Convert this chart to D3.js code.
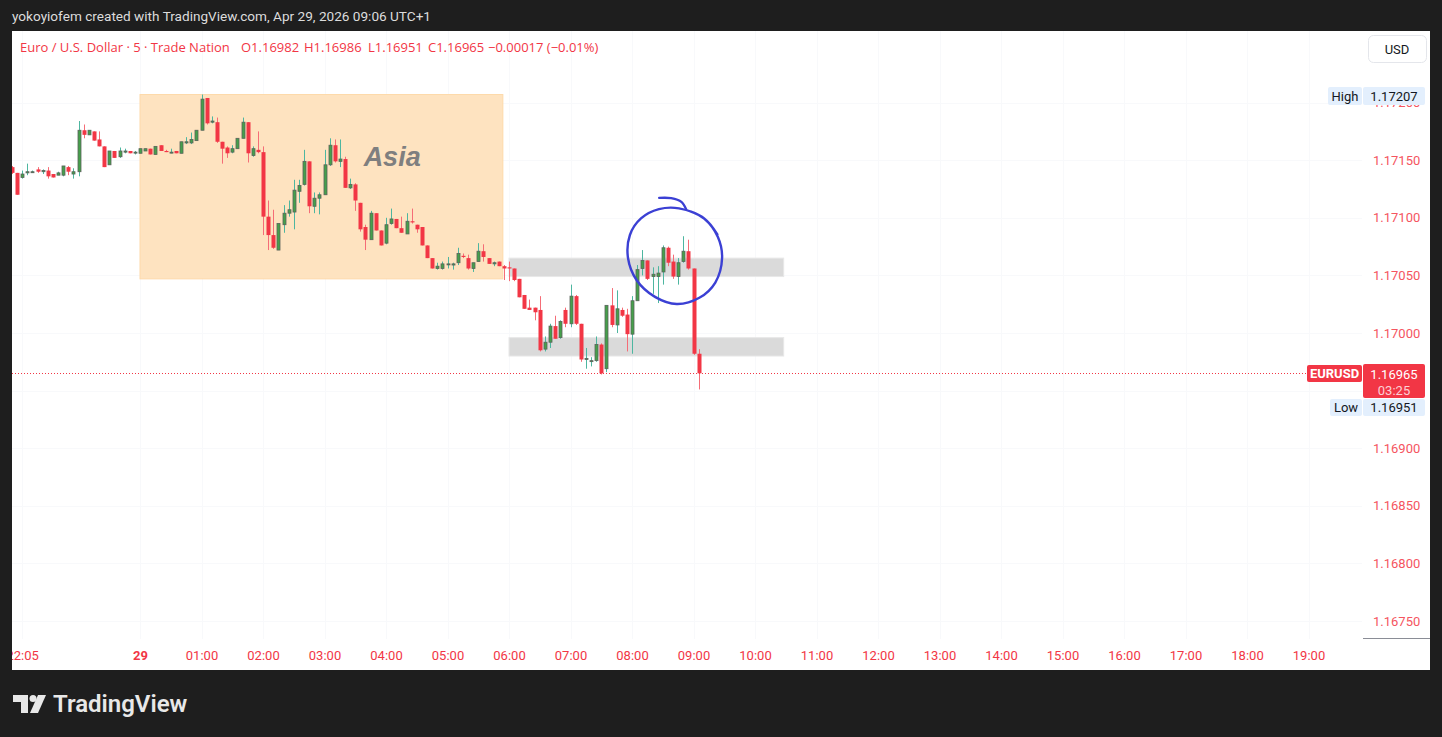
<!DOCTYPE html>
<html>
<head>
<meta charset="utf-8">
<script src="https://cdn.jsdelivr.net/npm/d3@7"></script>
<style>
  body { margin: 0; background: #1e1e1e; overflow: hidden; }
  svg { font-family: Roboto, "Liberation Sans", sans-serif; }
</style>
</head>
<body>
<div id="chart-area"></div>
<script>
// EURUSD 5 min bars, first bar 21:55 (chart time), one bar every 5 minutes
var firstBar = "2026-04-28T21:55:00Z"

var open = [1.17144, 1.17139, 1.17135, 1.17139, 1.17140, 1.17142, 1.17140, 1.17141, 1.17138, 1.17137,
  1.17137, 1.17144, 1.17138, 1.17140, 1.17176, 1.17172, 1.17175, 1.17168, 1.17162, 1.17146,
  1.17158, 1.17153, 1.17157, 1.17158, 1.17157, 1.17156, 1.17158, 1.17160, 1.17155, 1.17163,
  1.17158, 1.17157, 1.17158, 1.17156, 1.17165, 1.17165, 1.17167, 1.17176, 1.17204, 1.17183,
  1.17183, 1.17166, 1.17161, 1.17157, 1.17160, 1.17169, 1.17183, 1.17154, 1.17159, 1.17157,
  1.17101, 1.17085, 1.17072, 1.17094, 1.17104, 1.17105, 1.17123, 1.17129, 1.17149, 1.17110,
  1.17117, 1.17120, 1.17146, 1.17163, 1.17149, 1.17151, 1.17126, 1.17129, 1.17113, 1.17092,
  1.17081, 1.17104, 1.17089, 1.17078, 1.17095, 1.17099, 1.17091, 1.17086, 1.17097, 1.17094,
  1.17092, 1.17076, 1.17065, 1.17056, 1.17056, 1.17060, 1.17059, 1.17061, 1.17067, 1.17065,
  1.17056, 1.17062, 1.17071, 1.17065, 1.17060, 1.17062, 1.17058, 1.17057, 1.17056, 1.17047,
  1.17033, 1.17022, 1.17022, 1.17020, 1.16986, 1.16992, 1.17006, 1.16996, 1.17020, 1.17008,
  1.17032, 1.17008, 1.16977, 1.16976, 1.16976, 1.16990, 1.16969, 1.17024, 1.17007, 1.17020,
  1.17016, 1.16999, 1.17028, 1.17056, 1.17063, 1.17049, 1.17049, 1.17053, 1.17074, 1.17062,
  1.17049, 1.17062, 1.17071, 1.17056, 1.16982]
var high = [1.17145, 1.17139, 1.17141, 1.17147, 1.17141, 1.17144, 1.17142, 1.17144, 1.17138, 1.17140,
  1.17145, 1.17145, 1.17143, 1.17184, 1.17181, 1.17176, 1.17175, 1.17175, 1.17162, 1.17158,
  1.17158, 1.17161, 1.17160, 1.17158, 1.17158, 1.17160, 1.17160, 1.17160, 1.17162, 1.17163,
  1.17159, 1.17160, 1.17158, 1.17166, 1.17170, 1.17174, 1.17176, 1.17207, 1.17204, 1.17188,
  1.17187, 1.17166, 1.17162, 1.17163, 1.17169, 1.17187, 1.17183, 1.17162, 1.17175, 1.17162,
  1.17115, 1.17107, 1.17095, 1.17111, 1.17115, 1.17133, 1.17133, 1.17159, 1.17149, 1.17122,
  1.17122, 1.17159, 1.17169, 1.17168, 1.17168, 1.17153, 1.17134, 1.17130, 1.17113, 1.17094,
  1.17106, 1.17104, 1.17089, 1.17100, 1.17108, 1.17099, 1.17101, 1.17104, 1.17108, 1.17094,
  1.17092, 1.17076, 1.17065, 1.17061, 1.17062, 1.17066, 1.17061, 1.17074, 1.17069, 1.17068,
  1.17061, 1.17078, 1.17077, 1.17065, 1.17062, 1.17062, 1.17059, 1.17062, 1.17056, 1.17047,
  1.17033, 1.17029, 1.17022, 1.17032, 1.16997, 1.17008, 1.17015, 1.17011, 1.17022, 1.17042,
  1.17033, 1.17008, 1.16987, 1.16979, 1.16997, 1.16991, 1.17024, 1.17039, 1.17037, 1.17022,
  1.17021, 1.17032, 1.17059, 1.17072, 1.17063, 1.17057, 1.17058, 1.17076, 1.17075, 1.17068,
  1.17065, 1.17084, 1.17081, 1.17056, 1.16986]
var low = [1.17138, 1.17120, 1.17134, 1.17137, 1.17139, 1.17139, 1.17138, 1.17134, 1.17135, 1.17137,
  1.17136, 1.17137, 1.17134, 1.17136, 1.17169, 1.17172, 1.17167, 1.17162, 1.17144, 1.17146,
  1.17152, 1.17152, 1.17156, 1.17156, 1.17155, 1.17156, 1.17158, 1.17155, 1.17155, 1.17158,
  1.17157, 1.17156, 1.17156, 1.17156, 1.17164, 1.17164, 1.17167, 1.17176, 1.17181, 1.17182,
  1.17165, 1.17147, 1.17152, 1.17156, 1.17160, 1.17169, 1.17148, 1.17153, 1.17156, 1.17085,
  1.17072, 1.17073, 1.17072, 1.17087, 1.17101, 1.17090, 1.17113, 1.17128, 1.17104, 1.17104,
  1.17103, 1.17120, 1.17145, 1.17148, 1.17144, 1.17126, 1.17125, 1.17106, 1.17088, 1.17072,
  1.17081, 1.17089, 1.17076, 1.17077, 1.17094, 1.17091, 1.17087, 1.17086, 1.17095, 1.17087,
  1.17076, 1.17065, 1.17056, 1.17055, 1.17055, 1.17056, 1.17055, 1.17059, 1.17065, 1.17055,
  1.17053, 1.17062, 1.17062, 1.17060, 1.17058, 1.17058, 1.17046, 1.17045, 1.17045, 1.17031,
  1.17021, 1.17020, 1.17011, 1.16984, 1.16984, 1.16987, 1.16995, 1.16995, 1.17005, 1.17005,
  1.17007, 1.16975, 1.16969, 1.16971, 1.16975, 1.16964, 1.16966, 1.17005, 1.17000, 1.17014,
  1.16984, 1.16982, 1.17028, 1.17050, 1.17046, 1.17034, 1.17026, 1.17042, 1.17058, 1.17047,
  1.17042, 1.17061, 1.17055, 1.16981, 1.16951]
var close = [1.17139, 1.17120, 1.17138, 1.17140, 1.17140, 1.17140, 1.17141, 1.17136, 1.17135, 1.17139,
  1.17145, 1.17140, 1.17140, 1.17176, 1.17172, 1.17176, 1.17167, 1.17162, 1.17144, 1.17158,
  1.17152, 1.17158, 1.17158, 1.17156, 1.17157, 1.17160, 1.17160, 1.17155, 1.17162, 1.17158,
  1.17157, 1.17157, 1.17156, 1.17166, 1.17166, 1.17168, 1.17176, 1.17203, 1.17182, 1.17184,
  1.17166, 1.17160, 1.17156, 1.17160, 1.17169, 1.17183, 1.17156, 1.17160, 1.17157, 1.17101,
  1.17085, 1.17074, 1.17095, 1.17104, 1.17107, 1.17124, 1.17128, 1.17149, 1.17110, 1.17117,
  1.17120, 1.17146, 1.17163, 1.17149, 1.17151, 1.17126, 1.17129, 1.17115, 1.17090, 1.17081,
  1.17104, 1.17089, 1.17076, 1.17094, 1.17099, 1.17091, 1.17087, 1.17097, 1.17096, 1.17090,
  1.17076, 1.17065, 1.17056, 1.17058, 1.17060, 1.17060, 1.17060, 1.17069, 1.17066, 1.17056,
  1.17061, 1.17071, 1.17066, 1.17060, 1.17061, 1.17058, 1.17056, 1.17056, 1.17046, 1.17031,
  1.17021, 1.17020, 1.17018, 1.16985, 1.16992, 1.17006, 1.16995, 1.17010, 1.17008, 1.17032,
  1.17008, 1.16977, 1.16978, 1.16976, 1.16990, 1.16965, 1.17024, 1.17007, 1.17021, 1.17015,
  1.16999, 1.17028, 1.17055, 1.17063, 1.17047, 1.17051, 1.17052, 1.17074, 1.17061, 1.17049,
  1.17061, 1.17071, 1.17056, 1.16982, 1.16965]

var priceTicks = [1.1675, 1.168, 1.1685, 1.169, 1.1695, 1.17, 1.1705, 1.171, 1.1715, 1.172]
var timeTicks = ["2026-04-28T22:05Z", "2026-04-29T00:00Z", "2026-04-29T01:00Z", "2026-04-29T02:00Z",
  "2026-04-29T03:00Z", "2026-04-29T04:00Z", "2026-04-29T05:00Z", "2026-04-29T06:00Z",
  "2026-04-29T07:00Z", "2026-04-29T08:00Z", "2026-04-29T09:00Z", "2026-04-29T10:00Z",
  "2026-04-29T11:00Z", "2026-04-29T12:00Z", "2026-04-29T13:00Z", "2026-04-29T14:00Z",
  "2026-04-29T15:00Z", "2026-04-29T16:00Z", "2026-04-29T17:00Z", "2026-04-29T18:00Z",
  "2026-04-29T19:00Z"]

var lastPrice = 1.16965
var dayHigh = 1.17207
var dayLow = 1.16951
var countdown = "03:25"

// drawings on the chart
var asiaTime = ["2026-04-29T00:00Z", "2026-04-29T05:54Z"]
var asiaPrice = [1.17207, 1.17047]
var zoneTime = ["2026-04-29T06:00Z", "2026-04-29T10:28Z"]
var zoneTop = [1.17065, 1.16996]
var zoneBottom = [1.17049, 1.16980]
var circleCenter = ["2026-04-29T08:42Z", 1.17068]
var circleRadius = [46, 0.00042] // minutes, price
// hand drawn loop: [angle in degrees, radius factor]
var circleLoop = [[290, 0.95], [310, 0.97], [338, 0.98], [364, 1.0], [394, 1.03], [420, 1.03],
  [448, 1.02], [476, 0.97], [507, 0.97], [536, 1.0], [563, 1.04], [586, 1.04], [610, 1.0],
  [635, 0.96], [670, 0.97], [695, 0.99]]
var circleTail = [[254, 1.22], [266, 1.17], [277, 1.1], [284, 0.97]]

var svg = d3.select("#chart-area").append("svg")
    .attr("width", 1442)
    .attr("height", 737)

svg.append("rect").attr("width", 1442).attr("height", 737).attr("fill", "#1e1e1e")
svg.append("rect").attr("x", 12).attr("y", 31).attr("width", 1418).attr("height", 639).attr("fill", "#ffffff")

var parse = (s) => new Date(s)

var x = d3.scaleUtc()
    .domain([parse("2026-04-29T00:00Z"), parse("2026-04-29T01:00Z")])
    .range([140, 201.5])

var y = d3.scaleLinear()
    .domain([1.17, 1.1705])
    .range([333, 275.4])

var bars = open.map((o, i) => ({
  t: d3.utcMinute.offset(parse(firstBar), 5 * i),
  o: o, h: high[i], l: low[i], c: close[i]
}))

svg.append("clipPath").attr("id", "plot")
  .append("rect").attr("x", 12).attr("y", 31).attr("width", 1350).attr("height", 608)
svg.append("clipPath").attr("id", "timeaxis")
  .append("rect").attr("x", 12).attr("y", 639).attr("width", 1350).attr("height", 31)

var plot = svg.append("g").attr("clip-path", "url(#plot)")

// grid
plot.selectAll(".hgrid").data(priceTicks).enter().append("line")
    .attr("x1", 12).attr("x2", 1362)
    .attr("y1", (d) => Math.round(y(d)) + 0.5).attr("y2", (d) => Math.round(y(d)) + 0.5)
    .attr("stroke", "#f8f9fb")
plot.selectAll(".vgrid").data(timeTicks).enter().append("line")
    .attr("x1", (d) => Math.round(x(parse(d))) + 0.5).attr("x2", (d) => Math.round(x(parse(d))) + 0.5)
    .attr("y1", 31).attr("y2", 639)
    .attr("stroke", "#f8f9fb")

// Asia session box
plot.append("rect")
    .attr("x", x(parse(asiaTime[0])))
    .attr("y", y(asiaPrice[0]))
    .attr("width", x(parse(asiaTime[1])) - x(parse(asiaTime[0])))
    .attr("height", y(asiaPrice[1]) - y(asiaPrice[0]))
    .attr("fill", "#fee3c0")
    .attr("stroke", "#fdd9aa")
    .attr("stroke-width", 1)

// grey zones
plot.selectAll(".zone").data(zoneTop).enter().append("rect")
    .attr("x", x(parse(zoneTime[0])))
    .attr("y", (d) => y(d))
    .attr("width", x(parse(zoneTime[1])) - x(parse(zoneTime[0])))
    .attr("height", (d, i) => y(zoneBottom[i]) - y(d))
    .attr("fill", "#dadada")
    .attr("stroke", "#e8e8e8")

plot.append("text")
    .attr("x", x(parse("2026-04-29T04:06Z")))
    .attr("y", y(1.17153))
    .attr("text-anchor", "middle")
    .attr("dominant-baseline", "central")
    .style("font-family", "'Liberation Sans', sans-serif")
    .attr("font-size", 27)
    .attr("font-weight", "bold")
    .attr("font-style", "italic")
    .attr("fill", "#7f7f7f")
    .text("Asia")

// candles
var up = (d) => d.c >= d.o
var candles = plot.selectAll(".bar").data(bars).enter().append("g")

candles.append("line")
    .attr("x1", (d) => Math.round(x(d.t)) + 0.5)
    .attr("x2", (d) => Math.round(x(d.t)) + 0.5)
    .attr("y1", (d) => y(d.h))
    .attr("y2", (d) => y(d.l))
    .attr("stroke", (d) => up(d) ? "#4db6a0" : "#f56d77")
    .attr("stroke-width", 1)

candles.append("rect")
    .attr("x", (d) => up(d) ? Math.round(x(d.t)) - 1 : Math.round(x(d.t)) - 1.5)
    .attr("y", (d) => y(Math.max(d.o, d.c)))
    .attr("width", (d) => up(d) ? 3 : 4)
    .attr("height", (d) => Math.max(1, Math.abs(y(d.o) - y(d.c))))
    .attr("fill", (d) => up(d) ? "#45a04b" : "#f23645")
    .attr("stroke", (d) => up(d) ? "#5b625b" : "none")
    .attr("stroke-width", 0.8)

// last price line
plot.append("line")
    .attr("x1", 12).attr("x2", 1307)
    .attr("y1", Math.round(y(lastPrice)) + 0.5).attr("y2", Math.round(y(lastPrice)) + 0.5)
    .attr("stroke", "#f23645")
    .attr("stroke-dasharray", "1,2")

// hand drawn circle
var cx = x(parse(circleCenter[0]))
var cy = y(circleCenter[1])
var rx = x(d3.utcMinute.offset(parse(circleCenter[0]), circleRadius[0])) - cx
var ry = y(circleCenter[1] - circleRadius[1]) - cy
var polar = (p) => [cx + Math.cos(p[0] * Math.PI / 180) * rx * p[1], cy + Math.sin(p[0] * Math.PI / 180) * ry * p[1]]
var pen = d3.line().curve(d3.curveCatmullRom.alpha(0.5))

plot.append("path").attr("d", pen(circleLoop.map(polar)))
    .attr("fill", "none").attr("stroke", "#3b40d4").attr("stroke-width", 2.4).attr("stroke-linecap", "round")
plot.append("path").attr("d", pen(circleTail.map(polar)))
    .attr("fill", "none").attr("stroke", "#3b40d4").attr("stroke-width", 2.4).attr("stroke-linecap", "round")

// price axis (1.16950 sits under the last price label, so it gets no text)
var yAxis = svg.append("g")
    .attr("transform", "translate(1367,0)")
    .call(d3.axisRight(y).tickValues(priceTicks.filter((d) => d !== 1.1695))
      .tickFormat(d3.format(".5f")).tickSize(0).tickPadding(6))
yAxis.select(".domain").remove()
yAxis.selectAll("text").attr("fill", "#f5555f").attr("font-size", 13)

// time axis
var dayFmt = d3.utcFormat("%-d")
var hourFmt = d3.utcFormat("%H:%M")
var xAxis = svg.append("g")
    .attr("clip-path", "url(#timeaxis)")
    .append("g")
    .attr("transform", "translate(0,639)")
    .call(d3.axisBottom(x).tickValues(timeTicks.map(parse)).tickSize(0).tickPadding(12)
      .tickFormat((d) => d.getUTCHours() === 0 && d.getUTCMinutes() === 0 ? dayFmt(d) : hourFmt(d)))
xAxis.select(".domain").remove()
xAxis.selectAll("text").attr("fill", "#f23645").attr("font-size", 13)
    .attr("font-weight", (d) => d.getUTCHours() === 0 && d.getUTCMinutes() === 0 ? "bold" : null)
svg.selectAll(".tick text").style("font-family", "Roboto, sans-serif")

svg.append("line").attr("x1", 1363).attr("x2", 1430).attr("y1", 638.5).attr("y2", 638.5)
    .attr("stroke", "#8a8d96")

// price badges
function badge(x0, w, y0, h, fill, label, color, weight) {
  svg.append("rect").attr("x", x0).attr("y", y0).attr("width", w).attr("height", h)
      .attr("rx", 2).attr("fill", fill)
  svg.append("text").attr("x", x0 + w / 2).attr("y", y0 + h / 2)
      .attr("text-anchor", "middle").attr("dominant-baseline", "central")
      .attr("font-size", 13).attr("fill", color).attr("font-weight", weight || null)
      .text(label)
}
var fmt5 = d3.format(".5f")
var hy = Math.round(y(dayHigh))
badge(1328, 34, hy - 8, 18, "#e3effd", "High", "#131722")
badge(1363, 62, hy - 8, 18, "#e3effd", fmt5(dayHigh), "#131722")

// last price label, the day low label is pushed below it
var py = Math.round(y(lastPrice))
badge(1307, 55, py - 8, 17, "#f23645", "EURUSD", "#ffffff", "bold")
svg.append("rect").attr("x", 1363).attr("y", py - 9).attr("width", 62).attr("height", 34)
    .attr("rx", 2).attr("fill", "#f23645")
svg.append("text").attr("x", 1394).attr("y", py + 1).attr("text-anchor", "middle")
    .attr("dominant-baseline", "central").attr("font-size", 13).attr("fill", "#ffffff")
    .text(fmt5(lastPrice))
svg.append("text").attr("x", 1394).attr("y", py + 17).attr("text-anchor", "middle")
    .attr("dominant-baseline", "central").attr("font-size", 13).attr("fill", "#fdd0d4")
    .text(countdown)

var ly = Math.max(Math.round(y(dayLow)) - 8, py + 26)
badge(1330, 32, ly, 17, "#e3effd", "Low", "#131722")
badge(1363, 62, ly, 17, "#e3effd", fmt5(dayLow), "#131722")

// USD button
svg.append("rect").attr("x", 1368.5).attr("y", 35.5).attr("width", 58).attr("height", 27)
    .attr("rx", 5).attr("fill", "#ffffff").attr("stroke", "#e4e6eb")
svg.append("text").attr("x", 1397).attr("y", 49).attr("text-anchor", "middle")
    .attr("dominant-baseline", "central").attr("font-size", 13).attr("fill", "#131722")
    .text("USD")

// header lines
svg.append("text").attr("x", 12).attr("y", 21).attr("font-size", 13.6).attr("fill", "#dcdcdc")
    .text("yokoyiofem created with TradingView.com, Apr 29, 2026 09:06 UTC+1")

var legend = [[20, "Euro / U.S. Dollar · 5 · Trade Nation"], [241, "O1.16982"], [304, "H1.16986"],
  [368, "L1.16951"], [428, "C1.16965"], [488, "−0.00017 (−0.01%)"]]
svg.selectAll(".legend").data(legend).enter().append("text")
    .attr("x", (d) => d[0]).attr("y", 52)
    .style("font-family", "'Open Sans', sans-serif")
    .attr("font-size", 13).attr("fill", "#f23645")
    .text((d) => d[1])

// logo
var logo = svg.append("g").attr("fill", "#e8e8e8")
logo.append("path").attr("d", "M13,695 H28 V713 H21 V702 H13 Z")
logo.append("circle").attr("cx", 33).attr("cy", 698.5).attr("r", 3.5)
logo.append("path").attr("d", "M38,695 H46 L38,713 H30 Z")
svg.append("text").attr("x", 53).attr("y", 712).attr("font-size", 24).attr("font-weight", 600)
    .attr("fill", "#e8e8e8")
    .text("TradingView")
</script>
</body>
</html>
